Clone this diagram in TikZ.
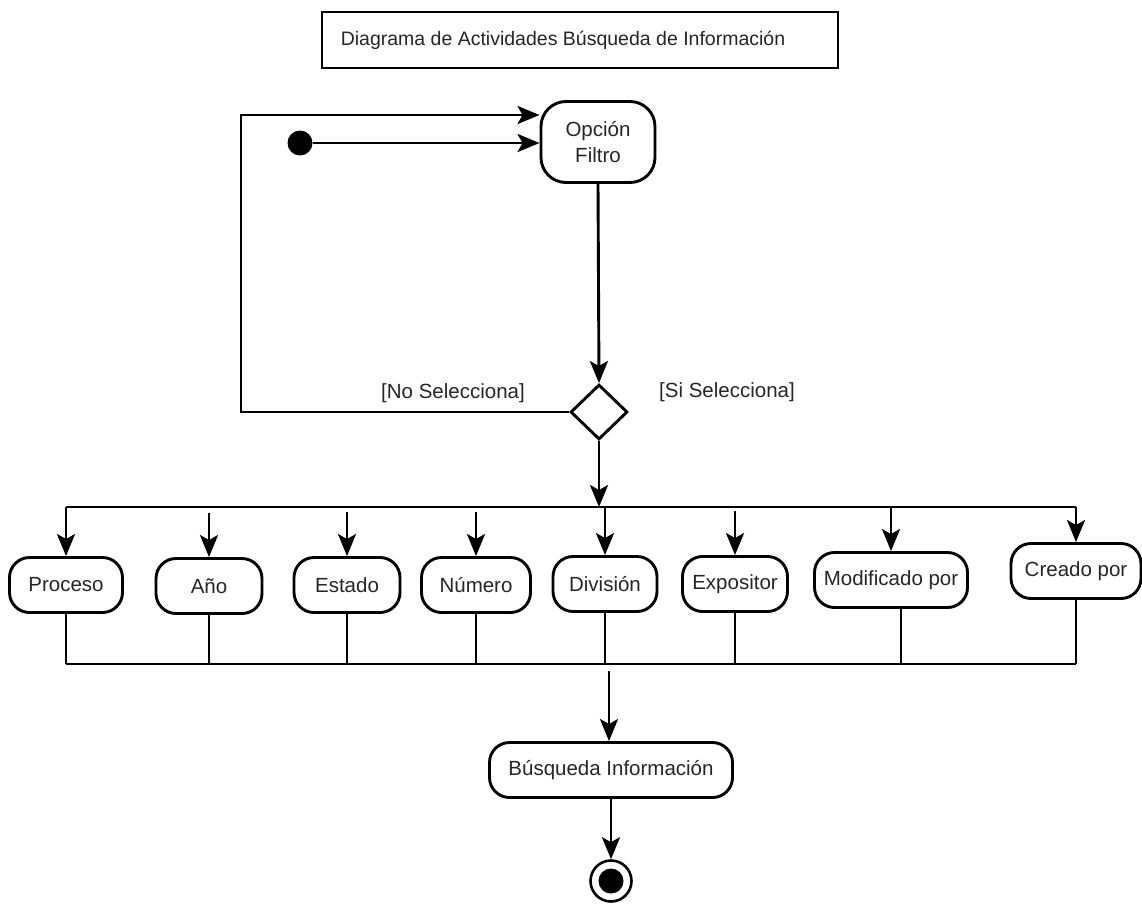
\documentclass[tikz,border=0pt]{standalone}
\usepackage{fontspec}
\setmainfont{Liberation Sans}
\usetikzlibrary{shapes.geometric,arrows.meta}
\definecolor{txt}{HTML}{262626}
\begin{document}
\begin{tikzpicture}[x=1pt,y=-1pt,
  every node/.style={font=\fontsize{20.5}{23}\selectfont, text=txt},
  line/.style={line width=2.9pt, draw=black},
  arr/.style={line, -{Stealth[length=22pt,width=18pt,inset=5pt]}},
  act/.style={draw, line width=2.9pt, rounded corners=20pt, align=center, inner sep=0pt, minimum height=55pt},
  guard/.style={inner sep=0pt}
]
\useasboundingbox (0,0) rectangle (1142,905);

% title
\node[draw, line width=2.4pt, minimum width=516pt, minimum height=56pt, inner sep=0pt,
      font=\fontsize{19.5}{22}\selectfont] (title) at (580,40)
  {\hspace*{-34pt}Diagrama de Actividades Búsqueda de Información};

% initial state and first activity
\node[circle, fill=black, minimum size=25pt, inner sep=0pt] (start) at (300,143) {};
\node[act, rounded corners=25pt, minimum width=114pt, minimum height=81pt, align=center] (opt) at (598,142)
  {Opción\\[3pt]Filtro};
\draw[arr] (start.east) -- (start -| opt.west);

% decision
\node[diamond, draw, line width=2.9pt, minimum width=57pt, minimum height=55pt, inner sep=0pt] (dec) at (599,412) {};
\draw[arr] (opt.south) -- (dec.north);
\node[guard] (nosel) at (453,393) {[No Selecciona]};
\node[guard] (sisel) at (727,392) {[Si Selecciona]};

% loop back when nothing is selected
\coordinate (lb) at (241,412);
\coordinate (lt) at (241,115);
\draw[arr] (dec.west) -- (lb) -- (lt) -- (lt -| opt.west);

% filter activities
\node[act, minimum width=113pt] (proc)  at (66,585)   {Proceso};
\node[act, minimum width=106pt] (anio)  at (209,586)  {Año};
\node[act, minimum width=106pt] (est)   at (347,585)  {Estado};
\node[act, minimum width=109pt] (num)   at (476,585)  {Número};
\node[act, minimum width=104pt] (div)   at (605,584)  {División};
\node[act, minimum width=105pt] (expo)  at (735,584)  {Expositor};
\node[act, minimum width=153pt] (modif) at (891,580)  {Modificado por};
\node[act, minimum width=130pt] (crea)  at (1076,571) {Creado por};

% fork bar
\coordinate (fork) at (599,507);
\coordinate (bl) at (66,507);
\coordinate (br) at (1076,507);
\draw[arr] (dec.south) -- (fork);
\draw[line] (bl) -- (br);
\draw[arr] (bl) -- (proc.north);
\draw[arr] (br) -- (crea.north);
\draw[arr] (div.north |- fork) -- (div.north);
\foreach \n in {anio,est,num,expo,modif}
  \draw[arr] ([yshift=44pt]\n.north) -- (\n.north);

% join bar
\coordinate (jl) at (66,664);
\coordinate (jr) at (1076,664);
\draw[line] (jl) -- (jr);
\draw[line] (proc.south) -- (proc.south |- jl);
\draw[line] (anio.south) -- (anio.south |- jl);
\draw[line] (est.south) -- (est.south |- jl);
\draw[line] (num.south) -- (num.south |- jl);
\draw[line] (div.south) -- (div.south |- jl);
\draw[line] (expo.south) -- (expo.south |- jl);
\draw[line] ([xshift=10pt]modif.south) -- ([xshift=10pt]modif.south |- jl);
\draw[line] (crea.south) -- (crea.south |- jl);

% search and final state
\node[act, minimum width=243pt] (busq) at (611,770) {Búsqueda Información};
\coordinate (join) at (609,671);
\draw[arr] (join) -- (join |- busq.north);
\node[circle, draw, line width=2.6pt, minimum size=41pt, inner sep=0pt] (fin) at (611,881) {};
\fill (fin.center) circle (12.5);
\draw[arr] (busq.south) -- (fin.north);
\end{tikzpicture}
\end{document}
